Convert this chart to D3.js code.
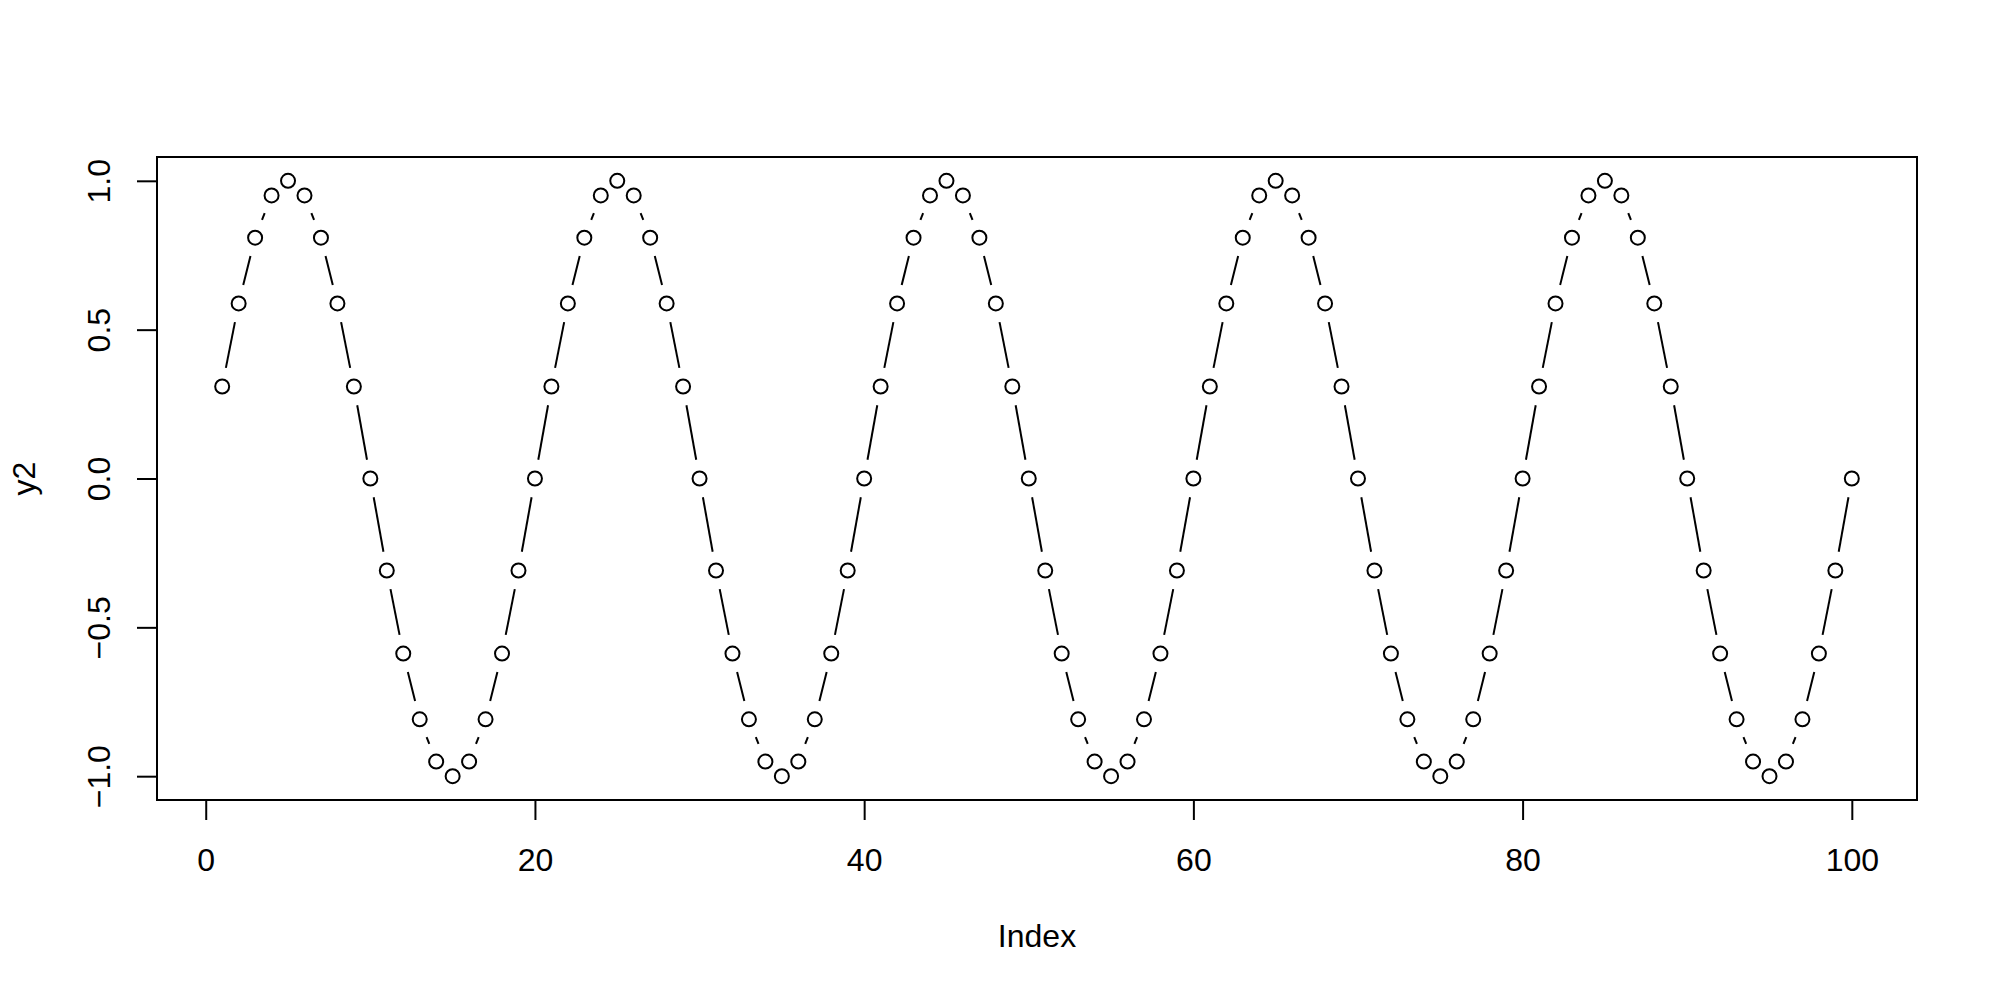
<!DOCTYPE html>
<html>
<head>
<meta charset="utf-8">
<script src="https://cdn.jsdelivr.net/npm/d3@7"></script>
<style>
html, body { margin: 0; padding: 0; background: #fff; }
svg { display: block; }
text { font-family: "Liberation Sans", Arial, Helvetica, sans-serif; fill: #000; }
</style>
</head>
<body>
<svg id="chart" width="1998" height="996"></svg>
<script>
// Data
const y2 = [
  0.309, 0.588, 0.809, 0.951, 1.000, 0.951, 0.809, 0.588, 0.309, 0.000,
 -0.309,-0.588,-0.809,-0.951,-1.000,-0.951,-0.809,-0.588,-0.309, 0.000,
  0.309, 0.588, 0.809, 0.951, 1.000, 0.951, 0.809, 0.588, 0.309, 0.000,
 -0.309,-0.588,-0.809,-0.951,-1.000,-0.951,-0.809,-0.588,-0.309, 0.000,
  0.309, 0.588, 0.809, 0.951, 1.000, 0.951, 0.809, 0.588, 0.309, 0.000,
 -0.309,-0.588,-0.809,-0.951,-1.000,-0.951,-0.809,-0.588,-0.309, 0.000,
  0.309, 0.588, 0.809, 0.951, 1.000, 0.951, 0.809, 0.588, 0.309, 0.000,
 -0.309,-0.588,-0.809,-0.951,-1.000,-0.951,-0.809,-0.588,-0.309, 0.000,
  0.309, 0.588, 0.809, 0.951, 1.000, 0.951, 0.809, 0.588, 0.309, 0.000,
 -0.309,-0.588,-0.809,-0.951,-1.000,-0.951,-0.809,-0.588,-0.309, 0.000
];
const xTicks = [0, 20, 40, 60, 80, 100];
const yTicks = [-1.0, -0.5, 0.0, 0.5, 1.0];
const xLabel = "Index";
const yLabel = "y2";

(function () {
const data = y2.map((v, i) => ({ idx: i + 1, v }));

const svg = d3.select("#chart");
const pl = 157, pr = 1917, pt = 157, pb = 800;

const xMin = 1, xMax = 100, xPad = (xMax - xMin) * 0.04;
const yMin = -1, yMax = 1, yPad = (yMax - yMin) * 0.04;
const x = d3.scaleLinear().domain([xMin - xPad, xMax + xPad]).range([pl, pr]);
const y = d3.scaleLinear().domain([yMin - yPad, yMax + yPad]).range([pb, pt]);

const fs = 32;
const ff = '"Liberation Sans", Arial, sans-serif';

// X axis
const gx = svg.append("g")
  .attr("transform", `translate(0,${pb})`)
  .call(d3.axisBottom(x).tickValues(xTicks).tickSize(20).tickPadding(28).tickFormat(d3.format("d")));
gx.select(".domain").remove();
gx.selectAll(".tick line").attr("stroke", "#000").attr("stroke-width", 2);
gx.selectAll(".tick text").attr("font-size", fs).attr("fill", "#000").style("font-family", ff);

// Y axis
const gy = svg.append("g")
  .attr("transform", `translate(${pl},0)`)
  .call(d3.axisLeft(y).tickValues(yTicks).tickSize(20).tickFormat(d3.format(".1f")));
gy.select(".domain").remove();
gy.selectAll(".tick line").attr("stroke", "#000").attr("stroke-width", 2);
gy.selectAll(".tick text")
  .attr("x", null).attr("dy", null)
  .attr("text-anchor", "middle")
  .attr("transform", "translate(-47,0) rotate(-90)")
  .attr("font-size", fs).attr("fill", "#000").style("font-family", ff);

// Plot box
svg.append("rect")
  .attr("x", pl).attr("y", pt)
  .attr("width", pr - pl).attr("height", pb - pt)
  .attr("fill", "none").attr("stroke", "#000").attr("stroke-width", 2);

// Line segments (type "b": gaps around points)
const gap = 19;
const segs = [];
for (let i = 0; i < data.length - 1; i++) {
  const x0 = x(data[i].idx), y0 = y(data[i].v);
  const x1 = x(data[i + 1].idx), y1 = y(data[i + 1].v);
  const dx = x1 - x0, dy = y1 - y0, d = Math.hypot(dx, dy);
  if (d > 2 * gap) {
    const ux = dx / d, uy = dy / d;
    segs.push({ x1: x0 + ux * gap, y1: y0 + uy * gap, x2: x1 - ux * gap, y2: y1 - uy * gap });
  }
}
svg.append("g").selectAll("line").data(segs).join("line")
  .attr("x1", d => d.x1).attr("y1", d => d.y1)
  .attr("x2", d => d.x2).attr("y2", d => d.y2)
  .attr("stroke", "#000").attr("stroke-width", 2);

// Points
svg.append("g").selectAll("circle").data(data).join("circle")
  .attr("cx", d => x(d.idx)).attr("cy", d => y(d.v))
  .attr("r", 7).attr("fill", "none").attr("stroke", "#000").attr("stroke-width", 2);

// Axis titles
svg.append("text")
  .attr("x", (pl + pr) / 2).attr("y", 947)
  .attr("text-anchor", "middle").attr("font-size", fs).style("font-family", ff)
  .text(xLabel);
svg.append("text")
  .attr("transform", `translate(35,${(pt + pb) / 2}) rotate(-90)`)
  .attr("text-anchor", "middle").attr("font-size", fs).style("font-family", ff)
  .text(yLabel);
})();
</script>
</body>
</html>
